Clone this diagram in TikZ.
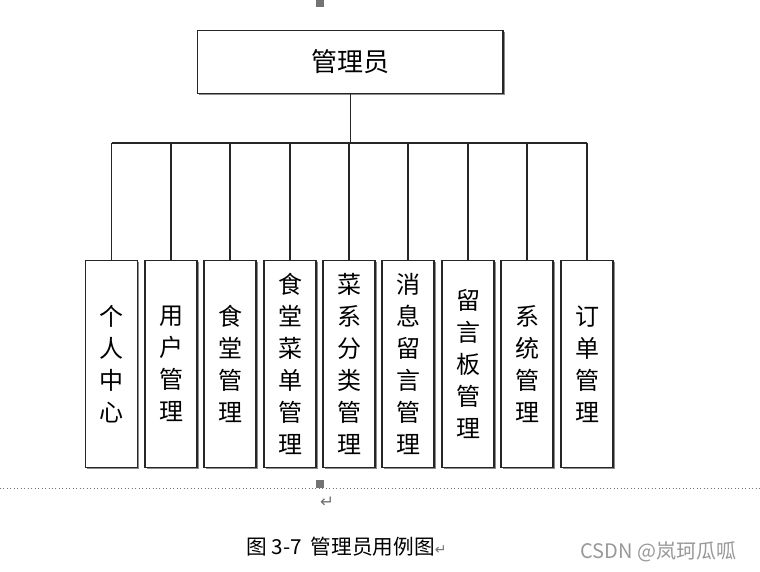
\documentclass[tikz,border=0pt]{standalone}
\usepackage{fontspec}
\usetikzlibrary{shadows}
\newfontfamily\cjk{Noto Sans CJK SC}
\newfontfamily\dejavu{DejaVu Sans}
\begin{document}
\begin{tikzpicture}[x=0.75pt,y=-0.75pt,
  boxshape/.style={draw=black!85,line width=0.9pt,fill=white,inner sep=0pt,
    drop shadow={shadow xshift=1.2pt,shadow yshift=-1.2pt,fill=black!45,opacity=1}},
  item/.style={boxshape,minimum width=39pt,minimum height=155pt,anchor=north,
    font=\cjk\fontsize{18}{24}\selectfont,align=center},
  link/.style={draw=black!85,line width=0.9pt}]
\useasboundingbox (0,0) rectangle (760,571);
\fill[white] (0,0) rectangle (760,571);
% top box
\node[boxshape,minimum width=229pt,minimum height=47pt,anchor=north west,
  font=\cjk\fontsize{19.5}{22}\selectfont] (root) at (197,30) {管理员};
% items
\foreach \n/\x/\t in {a/111.5/{个\\人\\中\\心},b/171/{用\\户\\管\\理},c/230/{食\\堂\\管\\理},
  d/290/{食\\堂\\菜\\单\\管\\理},e/349/{菜\\系\\分\\类\\管\\理},f/408/{消\\息\\留\\言\\管\\理},
  g/468/{留\\言\\板\\管\\理},h/527/{系\\统\\管\\理},i/587/{订\\单\\管\\理}}{
  \node[item] (\n) at (\x,260) {\t};
}
\coordinate (hub) at (root.south |- 0,143);
\draw[link] (root.south) -- (hub);
\coordinate (hl) at (a.north |- 0,143);
\coordinate (hr) at (i.north |- 0,143);
\draw[link] (hl) -- (hr);
\foreach \n in {a,b,c,d,e,f,g,h,i}{
  \draw[link] (\n.north |- 0,143) -- (\n.north);
}
% page markers
\draw[black!55,dotted,line width=0.6pt] (0,488) -- (760,488);
\fill[black!55] (316,0) rectangle (324,7);
\fill[black!55] (316,480) rectangle (324,488);
\node[text=black!55,font=\dejavu\fontsize{12.5}{14}\selectfont] (ret) at (327,502) {↵};
\node[anchor=west,font=\cjk\fontsize{15.5}{18}\selectfont,inner sep=0pt] (cap) at (246,547) {图 3-7\ \ 管理员用例图\textcolor{black!55}{\dejavu\fontsize{10.5}{12}\selectfont ↵}};
\node[anchor=west,text=black!40,font=\cjk\fontsize{15}{18}\selectfont,inner sep=0pt] (wm) at (580,552) {CSDN @岚珂瓜呱};
\end{tikzpicture}
\end{document}
